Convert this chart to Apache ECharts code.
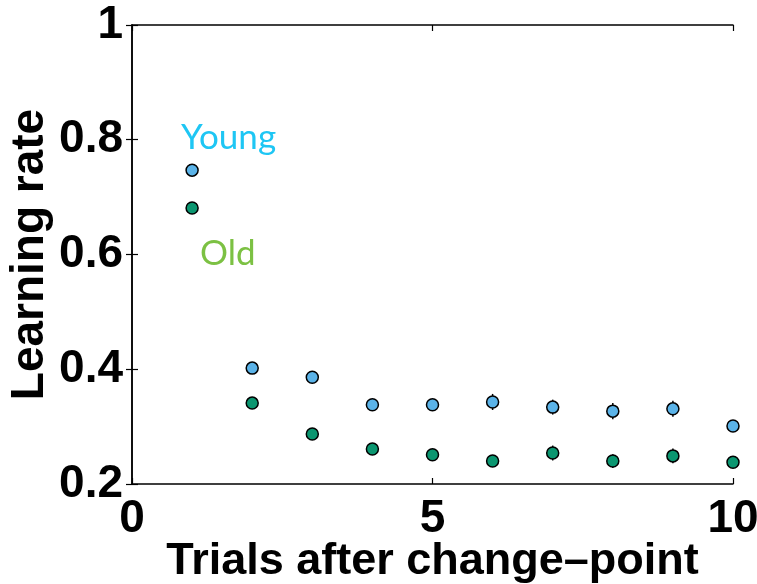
<!DOCTYPE html>
<html>
<head>
<meta charset="utf-8">
<script src="https://cdn.jsdelivr.net/npm/echarts@6/dist/echarts.min.js"></script>
<style>
  html, body { margin: 0; padding: 0; background: #fff; }
  #main { width: 757px; height: 584px; }
</style>
</head>
<body>
<div id="main"></div>
<script>
// trials after change-point
var trials = [1, 2, 3, 4, 5, 6, 7, 8, 9, 10];
// learning rate, young group
var youngRate = [0.747, 0.402, 0.386, 0.338, 0.338, 0.343, 0.334, 0.327, 0.331, 0.301];
var youngErr = [0.005, 0.006, 0.006, 0.008, 0.008, 0.014, 0.013, 0.014, 0.014, 0.008];
// learning rate, old group
var oldRate = [0.681, 0.341, 0.287, 0.261, 0.251, 0.240, 0.254, 0.240, 0.249, 0.238];
var oldErr = [0.004, 0.005, 0.005, 0.006, 0.007, 0.008, 0.013, 0.012, 0.013, 0.008];
var xTicks = [0, 5, 10];
var yTicks = [0.2, 0.4, 0.6, 0.8, 1];

var chart = echarts.init(document.getElementById('main'));

var labelFont = 'Liberation Sans Narrow, Liberation Sans, Arial, sans-serif';

function errData(vals, errs) {
  var out = [];
  for (var i = 0; i < trials.length; i++) {
    out.push([trials[i], vals[i] - errs[i], vals[i] + errs[i]]);
  }
  return out;
}

function errSeries(vals, errs) {
  return {
    type: 'custom',
    z: 1,
    silent: true,
    renderItem: function (params, api) {
      var lo = api.coord([api.value(0), api.value(1)]);
      var hi = api.coord([api.value(0), api.value(2)]);
      return {
        type: 'line',
        shape: { x1: lo[0], y1: lo[1], x2: hi[0], y2: hi[1] },
        style: { stroke: '#000', lineWidth: 1.5 }
      };
    },
    data: errData(vals, errs)
  };
}

function pairs(vals) {
  var out = [];
  for (var i = 0; i < trials.length; i++) out.push([trials[i], vals[i]]);
  return out;
}

var axisLine = { show: true, lineStyle: { color: '#000', width: 1.5 } };
var axisTick = { show: true, inside: true, length: 6, lineStyle: { color: '#000', width: 1.2 } };

var option = {
  animation: false,
  grid: { left: 132, right: 24, top: 25, bottom: 100, containLabel: false, outerBoundsMode: 'none' },
  xAxis: [
    {
      type: 'value', min: 0, max: 10, interval: 5,
      axisLine: axisLine, axisTick: axisTick, splitLine: { show: false },
      axisLabel: {
        margin: 12, color: '#000', fontSize: 46, fontWeight: 'bold', fontFamily: labelFont,
        formatter: function (v) { return xTicks.indexOf(v) >= 0 ? String(v) : ''; }
      },
      name: 'Trials after change\u2013point', nameLocation: 'middle', nameGap: 55,
      nameMoveOverlap: false,
      nameTextStyle: { color: '#000', fontSize: 45, fontWeight: 'bold', fontFamily: labelFont }
    },
    {
      type: 'value', min: 0, max: 10, interval: 5, position: 'top',
      axisLine: axisLine, axisTick: axisTick, axisLabel: { show: false }, splitLine: { show: false }
    }
  ],
  yAxis: [
    {
      type: 'value', min: 0.2, max: 1, interval: 0.2,
      axisLine: axisLine, axisTick: axisTick, splitLine: { show: false },
      axisLabel: {
        margin: 9, color: '#000', fontSize: 46, fontWeight: 'bold', fontFamily: labelFont,
        formatter: function (v) {
          var r = Math.round(v * 10) / 10;
          return r === 1 ? '1' : r.toFixed(1);
        }
      },
      name: 'Learning rate', nameLocation: 'middle', nameGap: 79, nameRotate: 90,
      nameMoveOverlap: false,
      nameTextStyle: { color: '#000', fontSize: 46, fontWeight: 'bold', fontFamily: labelFont }
    },
    {
      type: 'value', min: 0.2, max: 1, interval: 0.2, position: 'right',
      axisLine: axisLine, axisTick: axisTick, axisLabel: { show: false }, splitLine: { show: false }
    }
  ],
  series: [
    errSeries(youngRate, youngErr),
    errSeries(oldRate, oldErr),
    {
      name: 'Young', type: 'scatter', z: 3, symbolSize: 12,
      itemStyle: { color: '#5bb3e8', borderColor: '#000', borderWidth: 1.5, opacity: 1 },
      data: pairs(youngRate)
    },
    {
      name: 'Old', type: 'scatter', z: 3, symbolSize: 12,
      itemStyle: { color: '#0b9670', borderColor: '#000', borderWidth: 1.5, opacity: 1 },
      data: pairs(oldRate)
    }
  ],
  graphic: [
    {
      type: 'text', left: 181, top: 120,
      style: { text: 'Young', fill: '#1ec6f4', fontSize: 35, fontFamily: 'Lato, Open Sans, sans-serif' }
    },
    {
      type: 'text', left: 200, top: 236,
      style: { text: 'Old', fill: '#7cc143', fontSize: 35, fontFamily: 'Lato, Open Sans, sans-serif' }
    }
  ]
};

chart.setOption(option);
</script>
</body>
</html>
